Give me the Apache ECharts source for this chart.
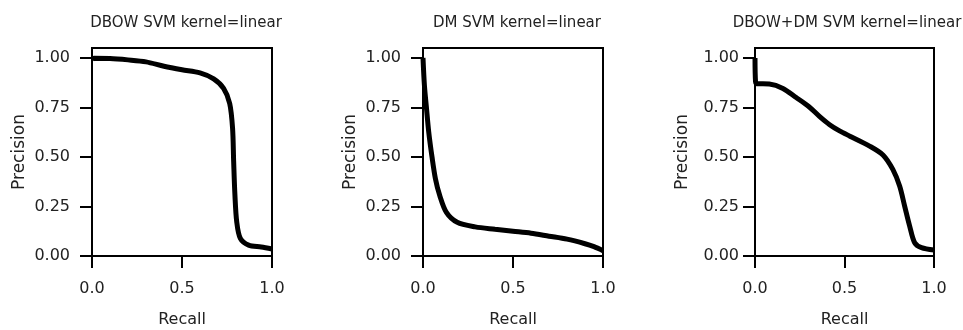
<!DOCTYPE html>
<html>
<head>
<meta charset="utf-8">
<script src="https://cdn.jsdelivr.net/npm/echarts@6/dist/echarts.min.js"></script>
<style>
  html, body { margin: 0; padding: 0; background: #fff; }
  #chart { width: 963px; height: 330px; }
</style>
</head>
<body>
<div id="chart"></div>
<script>
// PR curves, [recall, precision]
const dbowCurve = [
  [0, 0.99], [0.01, 0.998], [0.1, 0.997], [0.2, 0.99], [0.3, 0.98],
  [0.4, 0.958], [0.5, 0.94], [0.6, 0.924], [0.676, 0.894], [0.731, 0.846],
  [0.765, 0.77], [0.781, 0.644], [0.787, 0.476], [0.794, 0.308],
  [0.804, 0.173], [0.824, 0.089], [0.87, 0.055], [0.94, 0.045], [1.0, 0.035]
];
const dmCurve = [
  [0, 1.0], [0.008, 0.86], [0.019, 0.75], [0.032, 0.625], [0.05, 0.5],
  [0.069, 0.39], [0.093, 0.305], [0.13, 0.22], [0.19, 0.17], [0.29, 0.147],
  [0.4, 0.135], [0.5, 0.125], [0.6, 0.115], [0.7, 0.1], [0.8, 0.085],
  [0.9, 0.062], [0.95, 0.047], [1.0, 0.027]
];
const comboCurve = [
  [0, 1.0], [0.003, 0.88], [0.01, 0.87], [0.08, 0.868], [0.156, 0.846],
  [0.23, 0.8], [0.3, 0.755], [0.36, 0.705], [0.417, 0.663], [0.47, 0.633],
  [0.53, 0.605], [0.64, 0.555], [0.715, 0.51], [0.77, 0.437], [0.808, 0.353],
  [0.836, 0.252], [0.864, 0.151], [0.892, 0.067], [0.93, 0.042], [1.0, 0.03]
];
const titles = ['DBOW SVM kernel=linear', 'DM SVM kernel=linear', 'DBOW+DM SVM kernel=linear'];
const curves = [dbowCurve, dmCurve, comboCurve];
const xTicks = [0, 0.5, 1.0];
const yTicks = [0, 0.25, 0.5, 0.75, 1.0];

const font = 'DejaVu Sans';
const ink = '#222';
// 각 패널 위치
const panels = [
  { left: 92, width: 180, yMargin: 22, titleX: 181 },
  { left: 423, width: 180, yMargin: 22, titleX: 512 },
  { left: 755, width: 179, yMargin: 16, titleX: 842 }
];

const chart = echarts.init(document.getElementById('chart'));

const option = {
  backgroundColor: '#fff',
  animation: false,
  title: panels.map((p, i) => ({
    text: titles[i],
    left: p.titleX,
    top: 11,
    textAlign: 'center',
    textStyle: { fontFamily: font, fontSize: 15, fontWeight: 'normal', color: ink }
  })),
  grid: panels.map(p => ({
    left: p.left, top: 48, width: p.width, height: 208,
    outerBoundsMode: 'none',
    containLabel: false,
    show: true, borderColor: '#000', borderWidth: 2, backgroundColor: 'transparent'
  })),
  xAxis: panels.map((p, i) => ({
    type: 'value',
    gridIndex: i,
    min: 0, max: 1,
    name: 'Recall',
    nameLocation: 'middle',
    nameGap: 56,
    nameTextStyle: { fontFamily: font, fontSize: 16, color: ink },
    axisLine: { show: true, onZero: false, lineStyle: { color: '#000', width: 2 } },
    axisTick: { show: true, length: 12, lineStyle: { color: '#000', width: 2 }, customValues: xTicks },
    axisLabel: {
      fontFamily: font, fontSize: 16, color: ink, margin: 25,
      customValues: xTicks,
      formatter: v => v.toFixed(1)
    },
    splitLine: { show: false }
  })),
  yAxis: panels.map((p, i) => ({
    type: 'value',
    gridIndex: i,
    min: 0, max: 1.05,
    name: 'Precision',
    nameLocation: 'middle',
    nameGap: 64,
    nameTextStyle: { fontFamily: font, fontSize: 17, color: ink },
    axisLine: { show: true, onZero: false, lineStyle: { color: '#000', width: 2 } },
    axisTick: { show: true, length: 12, lineStyle: { color: '#000', width: 2 }, customValues: yTicks },
    axisLabel: {
      fontFamily: font, fontSize: 16, color: ink, margin: p.yMargin,
      customValues: yTicks,
      formatter: v => v.toFixed(2)
    },
    splitLine: { show: false }
  })),
  series: curves.map((c, i) => ({
    type: 'line',
    xAxisIndex: i,
    yAxisIndex: i,
    data: c,
    symbol: 'none',
    smooth: 0.3,
    lineStyle: { color: '#000', width: 5 }
  }))
};

chart.setOption(option);
</script>
</body>
</html>
